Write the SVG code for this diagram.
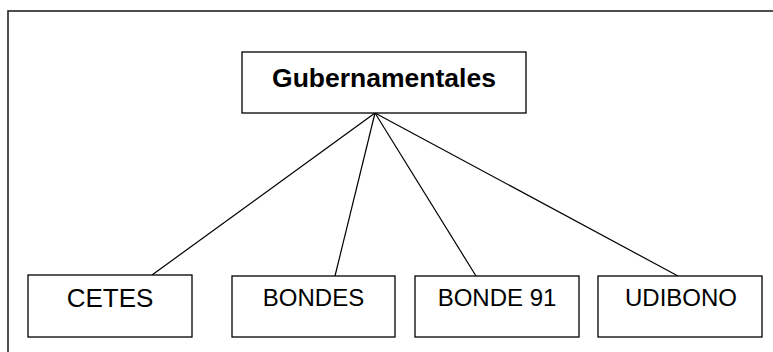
<svg xmlns="http://www.w3.org/2000/svg" width="773" height="352" viewBox="0 0 773 352">
<style>
.box{fill:#fff;stroke:#000;stroke-width:1.3}
.lbl{font-family:"Liberation Sans",Arial,sans-serif;font-size:24px;fill:#000;text-anchor:middle}
.conn{stroke:#000;stroke-width:1.2;fill:none}
</style>
<rect x="8" y="11" width="780" height="360" fill="#fff" stroke="#222" stroke-width="1.6"/>
<g id="connectors">
<line class="conn" x1="375" y1="113" x2="152" y2="275"/>
<line class="conn" x1="375" y1="113" x2="335" y2="276"/>
<line class="conn" x1="375" y1="113" x2="476" y2="276"/>
<line class="conn" x1="375" y1="113" x2="678" y2="276"/>
</g>
<g id="gubernamentales">
<rect class="box" x="242" y="52" width="284" height="61"/>
<text class="lbl" x="384" y="87" style="font-weight:bold;font-size:26.5px">Gubernamentales</text>
</g>
<g id="cetes">
<rect class="box" x="28" y="275" width="164" height="62"/>
<text class="lbl" x="110" y="307" style="font-size:26px">CETES</text>
</g>
<g id="bondes">
<rect class="box" x="232" y="276" width="163" height="61"/>
<text class="lbl" x="313.5" y="306">BONDES</text>
</g>
<g id="bonde91">
<rect class="box" x="415" y="276" width="164" height="61"/>
<text class="lbl" x="497" y="306">BONDE 91</text>
</g>
<g id="udibono">
<rect class="box" x="598" y="276" width="164" height="61"/>
<text class="lbl" x="681" y="306">UDIBONO</text>
</g>
</svg>
